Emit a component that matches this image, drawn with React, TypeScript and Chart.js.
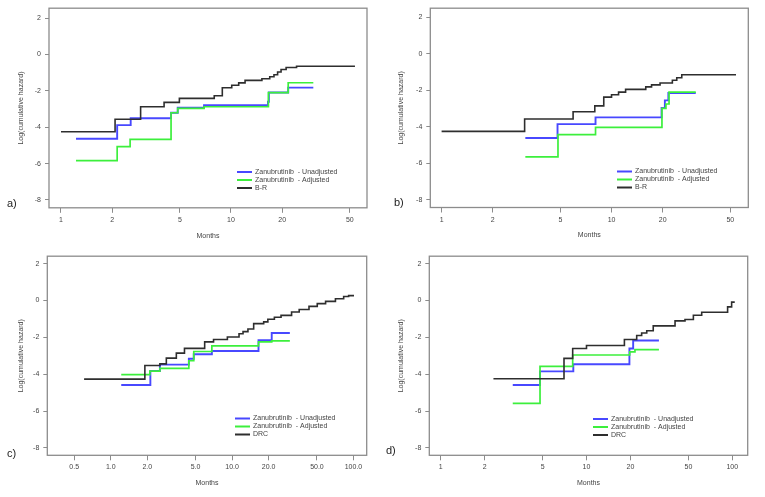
import React, { useEffect, useRef } from "react";
import { Chart, registerables } from "chart.js";

Chart.register(...registerables);

const FONT = "'Liberation Sans', Arial, sans-serif";
const BLUE = "#4848ff";
const GREEN = "#3cef3c";
const BLACK = "#2e2e2e";

// ---------- Panel a (B-R) ----------
const aRefTime = [1.0, 2.08, 2.94, 4.04, 4.97, 7.97, 8.89, 10.1, 11.1, 12.1, 15.2, 16.9, 17.9, 18.8, 19.7, 21.1, 24.3, 53.6];
const aRefValue = [-4.25, -3.56, -2.87, -2.63, -2.41, -2.27, -1.83, -1.69, -1.56, -1.42, -1.33, -1.22, -1.11, -0.96, -0.82, -0.71, -0.64, -0.64];
const aUnadjTime = [1.225, 2.14, 2.57, 4.44, 4.86, 6.94, 16.5, 16.7, 21.7, 30.5];
const aUnadjValue = [-4.63, -3.88, -3.5, -3.2, -2.92, -2.78, -2.6, -2.09, -1.82, -1.82];
const aAdjTime = [1.225, 2.14, 2.55, 4.44, 4.86, 6.94, 16.6, 21.7, 30.5];
const aAdjValue = [-5.83, -5.06, -4.67, -3.2, -2.96, -2.87, -2.09, -1.55, -1.55];

// ---------- Panel b (B-R) ----------
const bRefTime = [1.0, 3.08, 5.94, 7.97, 9.0, 10.0, 11.0, 12.1, 15.9, 17.2, 19.3, 22.8, 24.2, 25.9, 54.0];
const bRefValue = [-4.25, -3.57, -3.17, -2.85, -2.37, -2.24, -2.1, -1.95, -1.81, -1.7, -1.6, -1.45, -1.31, -1.15, -1.15];
const bUnadjTime = [3.11, 4.81, 8.05, 19.7, 20.6, 21.6, 31.3];
const bUnadjValue = [-4.61, -3.85, -3.48, -2.96, -2.55, -2.15, -2.15];
const bAdjTime = [3.11, 4.84, 8.05, 19.8, 20.9, 21.8, 31.3];
const bAdjValue = [-5.65, -4.43, -4.03, -2.99, -2.75, -2.1, -2.1];

// ---------- Panel c (DRC) ----------
const cRefTime = [0.603, 1.91, 2.54, 2.87, 3.47, 4.05, 5.94, 7.03, 9.14, 11.4, 12.3, 13.5, 15.05, 18.2, 19.7, 22.3, 25.3, 30.9, 35.7, 43.0, 50.3, 58.9, 71, 83, 91.2, 101];
const cRefValue = [-4.27, -3.53, -3.44, -3.13, -2.86, -2.6, -2.25, -2.12, -1.98, -1.81, -1.69, -1.55, -1.26, -1.16, -1.02, -0.91, -0.81, -0.63, -0.49, -0.32, -0.17, -0.05, 0.09, 0.21, 0.26, 0.26];
const cUnadjTime = [1.22, 2.12, 2.54, 4.4, 4.83, 6.81, 16.5, 21.2, 29.9];
const cUnadjValue = [-4.59, -3.83, -3.48, -3.16, -2.92, -2.74, -2.16, -1.77, -1.77];
const cAdjTime = [1.22, 2.1, 2.54, 4.4, 4.83, 6.81, 16.5, 21.2, 29.9];
const cAdjValue = [-4.02, -3.83, -3.69, -3.27, -2.77, -2.46, -2.25, -2.19, -2.19];

// ---------- Panel d (DRC) ----------
const dRefTime = [2.3, 7.01, 8.04, 10.0, 18.2, 22.1, 23.9, 25.9, 28.7, 40.5, 47.4, 54.1, 61.7, 92.9, 99, 104];
const dRefValue = [-4.25, -3.14, -2.61, -2.44, -2.12, -1.9, -1.77, -1.64, -1.38, -1.11, -1.03, -0.8, -0.64, -0.35, -0.09, -0.09];
const dUnadjTime = [3.12, 4.8, 8.12, 19.7, 20.9, 31.4];
const dUnadjValue = [-4.59, -3.85, -3.46, -2.61, -2.17, -2.17];
const dAdjTime = [3.12, 4.8, 8.04, 19.8, 21.5, 31.4];
const dAdjValue = [-5.58, -3.58, -2.96, -2.79, -2.67, -2.67];

// ---------- Axis ticks / labels ----------
const yTicks = [-8, -6, -4, -2, 0, 2];
const xTicksShort = [1, 2, 5, 10, 20, 50];
const xLabelsShort = ["1", "2", "5", "10", "20", "50"];
const xTicksC = [0.5, 1, 2, 5, 10, 20, 50, 100];
const xLabelsC = ["0.5", "1.0", "2.0", "5.0", "10.0", "20.0", "50.0", "100.0"];
const xTicksD = [1, 2, 5, 10, 20, 50, 100];
const xLabelsD = ["1", "2", "5", "10", "20", "50", "100"];

const unadjLabel = "Zanubrutinib  - Unadjusted";
const adjLabel = "Zanubrutinib  - Adjusted";
const brLabel = "B-R";
const drcLabel = "DRC";
const xTitle = "Months";
const yTitle = "Log(cumulative hazard)";

type Series = { label: string; color: string; time: number[]; value: number[] };
type Panel = {
  tag: string;
  left: number;
  top: number;
  width: number;
  height: number;
  area: { l: number; t: number; r: number; b: number };
  xMin: number;
  xMax: number;
  yMin: number;
  yMax: number;
  xTicks: number[];
  xLabels: string[];
  ref: Series;
  unadj: Series;
  adj: Series;
  legendX: number;
  legendY: number;
  tagX: number;
  tagY: number;
};

const panels: Panel[] = [
  {
    tag: "a)", left: 0, top: 0, width: 380, height: 248,
    area: { l: 49, t: 5, r: 367, b: 207.8 },
    xMin: 0.85, xMax: 63.1, yMin: -8.43, yMax: 2.55,
    xTicks: xTicksShort, xLabels: xLabelsShort,
    ref: { label: brLabel, color: BLACK, time: aRefTime, value: aRefValue },
    unadj: { label: unadjLabel, color: BLUE, time: aUnadjTime, value: aUnadjValue },
    adj: { label: adjLabel, color: GREEN, time: aAdjTime, value: aAdjValue },
    legendX: 237, legendY: 172, tagX: 7, tagY: 204,
  },
  {
    tag: "b)", left: 380, top: 0, width: 385, height: 248,
    area: { l: 50.3, t: 5, r: 368.3, b: 207.5 },
    xMin: 0.858, xMax: 63.8, yMin: -8.42, yMax: 2.5,
    xTicks: xTicksShort, xLabels: xLabelsShort,
    ref: { label: brLabel, color: BLACK, time: bRefTime, value: bRefValue },
    unadj: { label: unadjLabel, color: BLUE, time: bUnadjTime, value: bUnadjValue },
    adj: { label: adjLabel, color: GREEN, time: bAdjTime, value: bAdjValue },
    legendX: 237, legendY: 171.5, tagX: 14, tagY: 203,
  },
  {
    tag: "c)", left: 0, top: 248, width: 380, height: 249,
    area: { l: 47.3, t: 2.5, r: 366.7, b: 207.3 },
    xMin: 0.322, xMax: 128.5, yMin: -8.4, yMax: 2.4,
    xTicks: xTicksC, xLabels: xLabelsC,
    ref: { label: drcLabel, color: BLACK, time: cRefTime, value: cRefValue },
    unadj: { label: unadjLabel, color: BLUE, time: cUnadjTime, value: cUnadjValue },
    adj: { label: adjLabel, color: GREEN, time: cAdjTime, value: cAdjValue },
    legendX: 235, legendY: 170.5, tagX: 7, tagY: 206,
  },
  {
    tag: "d)", left: 380, top: 248, width: 385, height: 249,
    area: { l: 49.3, t: 3.5, r: 367.7, b: 207.3 },
    xMin: 0.835, xMax: 127.6, yMin: -8.4, yMax: 2.4,
    xTicks: xTicksD, xLabels: xLabelsD,
    ref: { label: drcLabel, color: BLACK, time: dRefTime, value: dRefValue },
    unadj: { label: unadjLabel, color: BLUE, time: dUnadjTime, value: dUnadjValue },
    adj: { label: adjLabel, color: GREEN, time: dAdjTime, value: dAdjValue },
    legendX: 213, legendY: 171, tagX: 6, tagY: 203,
  },
];

function toPoints(s: Series) {
  return s.time.map((t, i) => ({ x: t, y: s.value[i] }));
}

function PanelChart({ p }: { p: Panel }) {
  const ref = useRef<HTMLCanvasElement>(null);

  useEffect(() => {
    const canvas = ref.current;
    if (!canvas) return;
    const legendSeries = [p.unadj, p.adj, p.ref];

    const overlay = {
      id: "overlay" + p.tag,
      afterDraw(chart: any) {
        const { ctx, chartArea } = chart;
        ctx.save();
        // plot box
        ctx.strokeStyle = "#8c8c8c";
        ctx.lineWidth = 1.3;
        ctx.strokeRect(chartArea.left, chartArea.top, chartArea.right - chartArea.left, chartArea.bottom - chartArea.top);
        // legend
        ctx.font = `7px ${FONT}`;
        ctx.textBaseline = "middle";
        legendSeries.forEach((s, i) => {
          const y = p.legendY + i * 8;
          ctx.strokeStyle = s.color;
          ctx.lineWidth = 2;
          ctx.beginPath();
          ctx.moveTo(p.legendX, y);
          ctx.lineTo(p.legendX + 15, y);
          ctx.stroke();
          ctx.fillStyle = "#444";
          ctx.textAlign = "left";
          ctx.fillText(s.label, p.legendX + 18, y);
        });
        // axis titles
        ctx.fillStyle = "#444";
        ctx.textAlign = "center";
        ctx.fillText(xTitle, (chartArea.left + chartArea.right) / 2, chartArea.bottom + 28);
        ctx.save();
        ctx.translate(21.5, (chartArea.top + chartArea.bottom) / 2);
        ctx.rotate(-Math.PI / 2);
        ctx.fillText(yTitle, 0, 0);
        ctx.restore();
        // panel tag
        ctx.font = `11px ${FONT}`;
        ctx.fillStyle = "#222";
        ctx.textAlign = "left";
        ctx.fillText(p.tag, p.tagX, p.tagY);
        ctx.restore();
      },
    };

    const lineStyle = (s: Series, w: number) => ({
      label: s.label,
      data: toPoints(s),
      borderColor: s.color,
      backgroundColor: s.color,
      borderWidth: w,
      pointRadius: 0,
      stepped: "before" as const,
      fill: false,
    });

    const chart = new Chart(canvas, {
      type: "line",
      data: {
        datasets: [lineStyle(p.ref, 1.6), lineStyle(p.adj, 1.7), lineStyle(p.unadj, 1.9)],
      },
      options: {
        animation: false,
        responsive: false,
        devicePixelRatio: 1,
        layout: { padding: { left: 0, top: p.area.t, right: p.width - p.area.r, bottom: 0 } },
        plugins: { legend: { display: false }, tooltip: { enabled: false } },
        scales: {
          x: {
            type: "logarithmic",
            min: p.xMin,
            max: p.xMax,
            afterBuildTicks: (axis: any) => {
              axis.ticks = p.xTicks.map((v) => ({ value: v }));
            },
            afterFit: (axis: any) => {
              axis.height = p.height - p.area.b;
            },
            ticks: {
              autoSkip: false,
              maxRotation: 0,
              padding: 3,
              color: "#444",
              font: { family: FONT, size: 7 },
              callback: (_v: any, i: number) => p.xLabels[i],
            },
            grid: { drawOnChartArea: false, drawTicks: true, tickLength: 5, color: "#8c8c8c" },
            border: { display: false },
          },
          y: {
            type: "linear",
            min: p.yMin,
            max: p.yMax,
            afterBuildTicks: (axis: any) => {
              axis.ticks = yTicks.map((v) => ({ value: v }));
            },
            afterFit: (axis: any) => {
              axis.width = p.area.l;
            },
            ticks: {
              autoSkip: false,
              padding: 4,
              color: "#444",
              font: { family: FONT, size: 7 },
              callback: (v: any) => String(v),
            },
            grid: { drawOnChartArea: false, drawTicks: true, tickLength: 4, color: "#8c8c8c" },
            border: { display: false },
          },
        },
      },
      plugins: [overlay],
    });

    return () => chart.destroy();
  }, [p]);

  return (
    <canvas
      ref={ref}
      width={p.width}
      height={p.height}
      style={{ position: "absolute", left: p.left, top: p.top, width: p.width, height: p.height }}
    />
  );
}

export default function App() {
  return (
    <div style={{ position: "absolute", left: 0, top: 0, width: 765, height: 497, background: "#fff" }}>
      {panels.map((p) => (
        <PanelChart key={p.tag} p={p} />
      ))}
    </div>
  );
}
